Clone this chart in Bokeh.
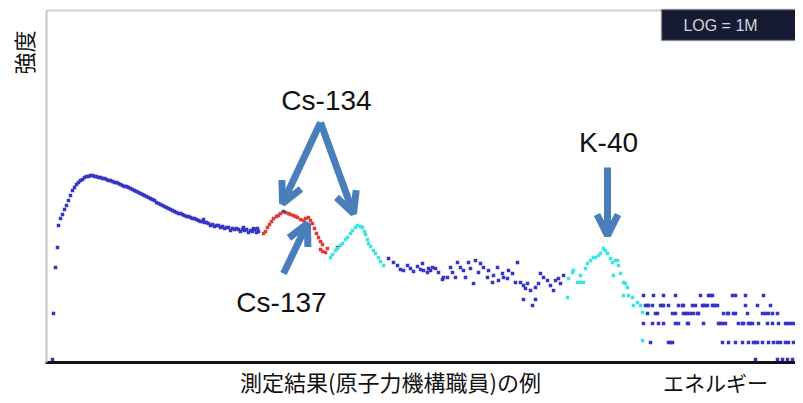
from bokeh.plotting import figure
from bokeh.models import (Range1d, LinearAxis, FixedTicker, Label, Arrow, OpenHead,
                          BoxAnnotation)
from bokeh.embed import file_html
from bokeh.resources import INLINE

# ---- data: channel (energy axis) and log-intensity height ----
blue1_ch = [6, 7, 9, 11, 12, 14, 16, 18, 20, 22, 24, 26, 28, 30, 32, 34, 36, 38, 40, 42, 44, 46,
            48, 50, 52, 54, 56, 58, 60, 62, 64, 66, 68, 70, 72, 74, 76, 78, 80, 82, 84, 86, 88,
            90, 92, 94, 96, 98, 100, 102, 104, 106, 108, 110, 112, 114, 116, 118, 120, 122, 124,
            126, 128, 130, 132, 134, 136, 138, 140, 142, 144, 146, 148, 150, 152, 154, 156, 157,
            158, 160, 162, 164, 166, 168, 170, 172, 174, 176, 178, 180, 182, 184, 186, 188, 190,
            192, 194, 196, 197, 198, 200, 202, 204, 206, 207, 208, 210, 211, 212]
blue1_h = [3, 49, 95, 115, 137, 144, 148, 153, 157, 162, 167, 172, 175, 178, 180, 182, 183, 185,
           186, 186, 187, 187, 186, 186, 185, 185, 184, 184, 183, 182, 182, 181, 180, 180, 179,
           178, 177, 176, 176, 175, 174, 173, 172, 171, 170, 169, 168, 167, 166, 165, 164, 163,
           162, 160, 159, 158, 157, 156, 155, 154, 153, 152, 151, 150, 149, 149, 148, 147, 146,
           146, 145, 144, 144, 143, 142, 141, 141, 143, 140, 140, 139, 137, 138, 136, 137, 137,
           135, 136, 134, 135, 135, 132, 134, 133, 134, 133, 131, 133, 135, 132, 133, 130, 132,
           131, 134, 133, 130, 134, 131]

red_ch = [217, 219, 221, 223, 225, 227, 230, 232, 234, 239, 242, 244, 247, 249, 251, 254, 257,
          259, 262, 264, 266, 268, 270, 272, 274, 274, 276, 276, 279, 281]
red_h = [129, 131, 135, 138, 141, 144, 146, 147, 149, 150, 149, 148, 147, 146, 145, 143, 142,
         144, 145, 142, 139, 134, 129, 125, 121, 113, 118, 111, 110, 114]

gray_ch = [237, 291]
gray_h = [151, 115]

cyan1_ch = [284, 286, 289, 291, 294, 296, 299, 301, 304, 306, 309, 311, 314, 316, 318, 319, 321,
            322, 324, 327, 329, 332, 334, 337]
cyan1_h = [105, 108, 112, 114, 117, 119, 123, 125, 129, 132, 135, 137, 136, 135, 131, 128, 123,
           119, 116, 112, 109, 105, 101, 97]

blue2_ch = [342, 347, 351, 354, 357, 361, 364, 367, 371, 374, 376, 377, 381, 382, 384, 386, 389,
            392, 396, 397, 401, 404, 406, 409, 411, 414, 417, 419, 422, 424, 427, 429, 432, 434,
            437, 441, 442, 446, 447, 451, 452, 456, 457, 461, 462, 466, 469, 471, 474, 477, 479,
            481, 484, 477, 486, 489, 489, 492, 494, 497, 501, 504, 507, 509, 512, 514, 517]
blue2_h = [104, 100, 97, 93, 92, 97, 94, 91, 96, 93, 99, 92, 90, 94, 92, 95, 94, 90, 83, 85, 85,
           95, 90, 85, 100, 95, 92, 85, 100, 94, 79, 102, 90, 99, 95, 85, 92, 80, 87, 95, 82, 89,
           85, 84, 92, 89, 80, 100, 80, 77, 74, 79, 72, 63, 57, 63, 75, 79, 89, 85, 82, 77, 72,
           82, 84, 79, 87]

cyan2_ch = [521, 522, 526, 527, 531, 534, 534, 537, 539, 541, 544, 547, 549, 552, 554, 557, 559,
            561, 564, 566, 569, 571, 567, 572, 574, 577, 579, 581, 577, 582, 586, 587, 591, 594,
            596, 596]
cyan2_h = [65, 84, 90, 92, 80, 87, 80, 80, 94, 99, 102, 105, 105, 107, 109, 114, 112, 109, 104,
           100, 102, 102, 87, 97, 89, 80, 79, 75, 67, 67, 65, 57, 60, 57, 50, 22]

# low-count tail: discrete count levels and the channels where they occur
level_h = [67, 57, 49, 39, 20, 3]
level1_ch = [597, 607, 617, 629, 654, 662, 664, 666, 686, 689, 699, 717]
level2_ch = [599, 601, 602, 606, 614, 616, 617, 622, 632, 636, 637, 646, 649, 656, 657, 659, 661,
             666, 667, 669, 671, 699, 711, 724]
level3_ch = [601, 609, 611, 626, 629, 637, 639, 641, 644, 647, 651, 652, 677, 681, 682, 687, 689,
             701, 716, 719, 722, 726, 731]
level4_ch = [597, 606, 612, 617, 629, 632, 641, 642, 657, 672, 674, 676, 679, 692, 696, 697, 702,
             704, 706, 712, 721, 726, 732, 739, 741, 744, 747, 751, 754]
level5_ch = [604, 622, 624, 626, 676, 682, 689, 696, 702, 707, 709, 711, 716, 722, 727, 731, 734,
             739, 742, 747, 754]
level6_ch = [709, 731, 736, 741, 746, 751]

BLUE = "#3434c8"
RED = "#e23a3a"
CYAN = "#3fe3e3"
ARROW = "#4a7ebb"

p = figure(width=795, height=395, x_range=Range1d(-46, 749), y_range=Range1d(-33, 362),
           x_axis_type=None, y_axis_type=None, toolbar_location=None, output_backend="svg",
           min_border=0)
p.outline_line_color = None
p.xgrid.visible = False
p.ygrid.visible = False
p.background_fill_color = "white"
p.border_fill_color = "white"

ax_style = dict(ticker=FixedTicker(ticks=[]), major_tick_line_color=None,
                minor_tick_line_color=None, major_label_text_font_size="0px")
p.add_layout(LinearAxis(fixed_location=0, bounds=(0, 352), axis_line_color="#c4c4c4",
                        axis_line_width=2, **ax_style), "left")
p.add_layout(LinearAxis(fixed_location=352, bounds=(0, 615), axis_line_color="#d0d0d0",
                        axis_line_width=2, **ax_style), "above")
p.add_layout(LinearAxis(fixed_location=0, bounds=(-1, 757), axis_line_color="#111111",
                        axis_line_width=3, **ax_style), "below")

mk = dict(marker="square", size=3.5, line_color=None)
p.scatter(blue1_ch, blue1_h, fill_color=BLUE, **mk)
p.scatter(red_ch, red_h, fill_color=RED, **mk)
p.scatter(gray_ch, gray_h, fill_color="#505050", **mk)
p.scatter(cyan1_ch, cyan1_h, fill_color=CYAN, **mk)
p.scatter(blue2_ch, blue2_h, fill_color=BLUE, **mk)
p.scatter(cyan2_ch, cyan2_h, fill_color=CYAN, **mk)
for h, chs in zip(level_h, [level1_ch, level2_ch, level3_ch, level4_ch, level5_ch, level6_ch]):
    p.scatter(chs, [h] * len(chs), fill_color=BLUE, **mk)

# LOG box
p.add_layout(BoxAnnotation(left=615, right=760, bottom=322, top=353, fill_color="#171a33",
                           fill_alpha=1, line_color="#85858c", line_width=2))
p.add_layout(Label(x=674, y=337, text="LOG = 1M", text_align="center", text_baseline="middle",
                   text_font="Liberation Sans", text_font_size="16px", text_color="#d4d4dc"))

# arrows
for (xs, ys, xe, ye) in [(274, 240, 236, 159), (274, 240, 307, 149), (237, 89, 261, 139),
                         (561, 195, 561, 127)]:
    p.add_layout(Arrow(x_start=xs, y_start=ys, x_end=xe, y_end=ye, line_color=ARROW,
                       line_width=7, end=OpenHead(size=21, line_color=ARROW, line_width=7)))

lab = dict(text_align="center", text_baseline="middle", text_color="#111111")
p.add_layout(Label(x=280, y=262, text="Cs-134", text_font="Liberation Sans",
                   text_font_size="28px", **lab))
p.add_layout(Label(x=235, y=60, text="Cs-137", text_font="Liberation Sans",
                   text_font_size="28px", **lab))
p.add_layout(Label(x=562, y=220, text="K-40", text_font="Liberation Sans",
                   text_font_size="28px", **lab))

p.add_layout(Label(x=-24, y=310, text="強度", angle=1.5708, text_font="Noto Sans CJK JP",
                   text_font_size="22px", **lab))
p.add_layout(Label(x=344, y=-18, text="測定結果(原子力機構職員)の例", text_font="Noto Sans CJK JP",
                   text_font_size="22px", **lab))
p.add_layout(Label(x=669, y=-19, text="エネルギー", text_font="Noto Sans CJK JP",
                   text_font_size="21px", **lab))

open("out.html", "w").write(file_html(p, INLINE))
